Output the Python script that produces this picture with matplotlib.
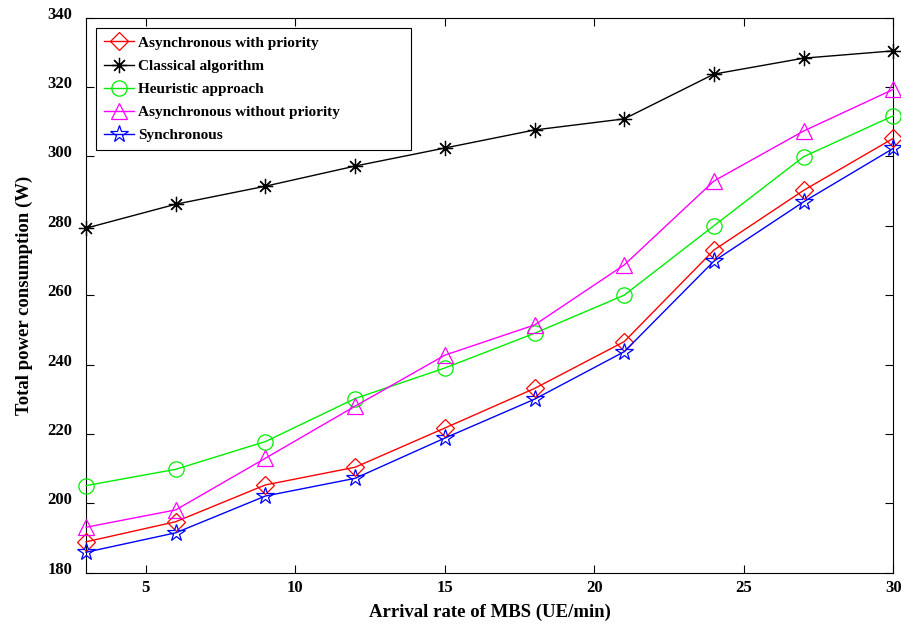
import matplotlib
matplotlib.use("Agg")
import matplotlib.pyplot as plt
from matplotlib.transforms import ScaledTranslation

plt.rcParams["font.family"] = ["Liberation Serif", "DejaVu Serif"]
plt.rcParams["font.weight"] = "bold"

# ── Data ───────────────────────────────────────────────────────────────────────
arrival_rate = [3, 6, 9, 12, 15, 18, 21, 24, 27, 30]

async_priority = [188.9, 194.7, 205.3, 210.4, 221.7, 233.1, 246.6, 273.0, 290.2, 305.2]
classical      = [279.3, 286.2, 291.4, 297.2, 302.4, 307.6, 310.8, 323.7, 328.3, 330.4]
heuristic      = [205.1, 209.8, 217.8, 230.2, 239.0, 249.0, 260.0, 280.0, 299.9, 311.7]
async_no_prio  = [193.1, 198.1, 213.0, 228.0, 242.7, 251.4, 268.7, 292.9, 307.3, 319.3]
synchronous    = [185.9, 191.5, 202.1, 207.2, 218.8, 230.0, 243.7, 269.8, 286.9, 302.3]

x_ticks = [5, 10, 15, 20, 25, 30]
y_ticks = [180, 200, 220, 240, 260, 280, 300, 320, 340]

# ── Plot ───────────────────────────────────────────────────────────────────────
fig = plt.figure(figsize=(9.01, 6.27), dpi=100)
ax = fig.add_axes([0.0955, 0.0866, 0.896, 0.8854])

series = [
    ("Asynchronous with priority",    async_priority, "#ff0000", "D", 9),
    ("Classical algorithm",           classical,      "#000000", (8, 2, 0), 11),
    ("Heuristic approach",            heuristic,      "#00ee00", "o", 11),
    ("Asynchronous without priority", async_no_prio,  "#ff00ff", "^", 12),
    ("Synchronous",                   synchronous,    "#0000ff", "*", 13),
]

for label, vals, color, marker, ms in series:
    ax.plot(arrival_rate, vals, color=color, lw=1.0, marker=marker,
            markersize=ms, markerfacecolor="none", markeredgecolor=color,
            markeredgewidth=0.9, label=label, clip_on=False, zorder=3)

ax.set_xlim(3, 30)
ax.set_ylim(180, 340)
ax.set_xticks(x_ticks)
ax.set_yticks(y_ticks)
ax.tick_params(direction="in", top=True, right=True, length=6, width=0.8,
               labelsize=12)
ax.tick_params(axis="x", pad=5)
ax.tick_params(axis="y", pad=10)
for lbl in ax.get_xticklabels() + ax.get_yticklabels():
    lbl.set_fontweight("bold")
# y labels sit a little above their ticks in the original
shift = ScaledTranslation(0, 0.05, fig.dpi_scale_trans)
for lbl in ax.get_yticklabels():
    lbl.set_transform(lbl.get_transform() + shift)
for sp in ax.spines.values():
    sp.set_linewidth(0.8)

ax.set_xlabel("Arrival rate of MBS (UE/min)", fontsize=13.5, fontweight="bold", labelpad=6)
ax.set_ylabel("Total power consumption (W)", fontsize=13.5, fontweight="bold", labelpad=10)

# wide legend box with empty space on the right, like the original
leg = ax.legend(loc="upper left", bbox_to_anchor=(0.0124, 0.5, 0.39, 0.4805),
                mode="expand",
                frameon=True, fancybox=False, edgecolor="black", framealpha=1,
                handlelength=2.0, borderpad=0.5, labelspacing=0.62,
                handletextpad=0.25, borderaxespad=0,
                prop={"weight": "bold", "size": 11})
leg.get_frame().set_linewidth(0.8)

fig.savefig("out.png", dpi=100)
